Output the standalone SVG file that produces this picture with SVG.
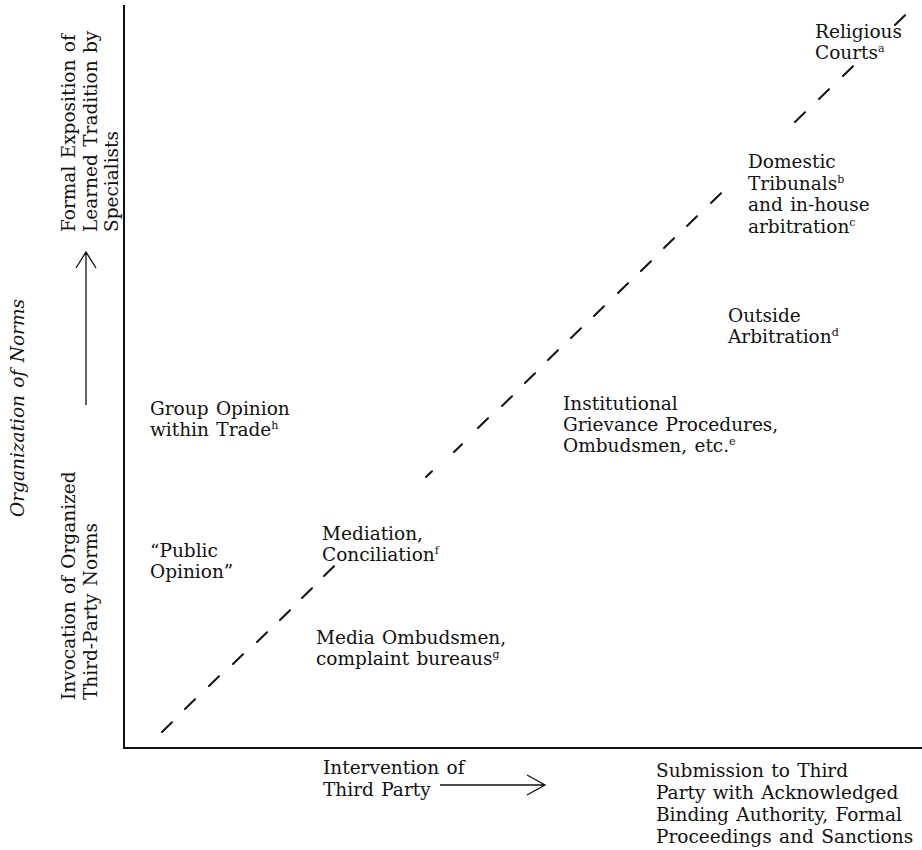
<svg xmlns="http://www.w3.org/2000/svg" width="922" height="850" viewBox="0 0 922 850">
<style>
text { font-family: "DejaVu Serif", "Liberation Serif", serif; font-size: 18.5px; word-spacing: 1.5px; fill: #111; }
.it { font-style: italic; }
.sup { font-size: 11px; }
.axis { stroke: #111; stroke-width: 2; fill: none; }
.arrow { stroke: #111; stroke-width: 1.3; fill: none; }
.dash { stroke: #111; stroke-width: 2; stroke-linecap: round; fill: none; }
</style>
<rect width="922" height="850" fill="#fff"/>

<g id="axes">
  <path class="axis" d="M124,5 V748 H922"/>
</g>

<g id="connectors">
  <path class="dash" d="M162,732 l10,-9.8 M185,709 l10,-9.8 M209,686 l10,-9.8 M233,664 l10,-9.8 M257,642 l10,-9.8 M280,620 l10,-9.8 M302,598 l10,-9.8 M324,576 l10,-9.8
  M426,477 l6,-5.8 M454,452 l8,-7.8 M478,428 l10,-9.8 M502,406 l10,-9.8 M525,383 l10,-9.8 M548,360 l10,-9.8 M571,338 l10,-9.8 M594,316 l10,-9.8 M618,293 l10,-9.8 M641,271 l10,-9.8 M664,248 l10,-9.8 M687,226 l10,-9.8 M711,203 l10,-9.8
  M795,122 l10,-9.8 M819,99 l10,-9.8 M843,76 l10,-9.8 M895,25 l10,-9.8"/>
  <path id="arrow-v" class="arrow" d="M86,405 V252 M76,268 L86,252 L96,268"/>
  <path id="arrow-h" class="arrow" d="M440,785 H545 M527,775 L545,785 L527,795"/>
</g>

<g id="axis-y-title">
  <text class="it" transform="translate(24,408) rotate(-90)" text-anchor="middle">Organization of Norms</text>
</g>
<g id="y-low" transform="translate(75,700) rotate(-90)">
  <text x="0" y="0">Invocation of Organized</text>
  <text x="0" y="21.5">Third-Party Norms</text>
</g>
<g id="y-high" transform="translate(75,232) rotate(-90)">
  <text x="0" y="0">Formal Exposition of</text>
  <text x="0" y="21.5">Learned Tradition by</text>
  <text x="0" y="43">Specialists</text>
</g>

<g id="x-low">
  <text x="323" y="774">Intervention of</text>
  <text x="323" y="796">Third Party</text>
</g>
<g id="x-high">
  <text x="656" y="777">Submission to Third</text>
  <text x="656" y="799">Party with Acknowledged</text>
  <text x="656" y="821">Binding Authority, Formal</text>
  <text x="656" y="843">Proceedings and Sanctions</text>
</g>

<g id="religious-courts">
  <text x="815" y="38">Religious</text>
  <text x="815" y="59">Courts<tspan class="sup" dy="-7">a</tspan></text>
</g>
<g id="domestic-tribunals">
  <text x="748" y="168">Domestic</text>
  <text x="748" y="189.5">Tribunals<tspan class="sup" dy="-7">b</tspan></text>
  <text x="748" y="211">and in-house</text>
  <text x="748" y="232.5">arbitration<tspan class="sup" dy="-7">c</tspan></text>
</g>
<g id="outside-arbitration">
  <text x="728" y="322">Outside</text>
  <text x="728" y="343">Arbitration<tspan class="sup" dy="-7">d</tspan></text>
</g>
<g id="institutional-grievance">
  <text x="563" y="410">Institutional</text>
  <text x="563" y="431">Grievance Procedures,</text>
  <text x="563" y="452">Ombudsmen, etc.<tspan class="sup" dy="-7">e</tspan></text>
</g>
<g id="group-opinion">
  <text x="150" y="415">Group Opinion</text>
  <text x="150" y="436">within Trade<tspan class="sup" dy="-7">h</tspan></text>
</g>
<g id="mediation">
  <text x="322" y="540">Mediation,</text>
  <text x="322" y="561">Conciliation<tspan class="sup" dy="-7">f</tspan></text>
</g>
<g id="public-opinion">
  <text x="150" y="557">“Public</text>
  <text x="150" y="578">Opinion”</text>
</g>
<g id="media-ombudsmen">
  <text x="316" y="644">Media Ombudsmen,</text>
  <text x="316" y="665">complaint bureaus<tspan class="sup" dy="-7">g</tspan></text>
</g>
</svg>
